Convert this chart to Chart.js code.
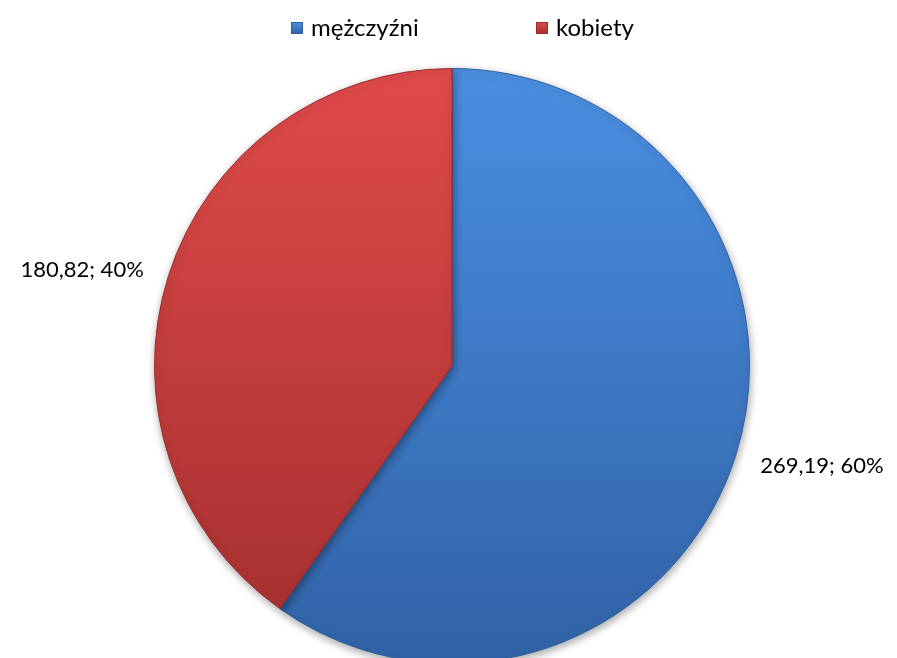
<!DOCTYPE html>
<html>
<head>
<meta charset="utf-8">
<script src="https://cdn.jsdelivr.net/npm/chart.js@4.4.0/dist/chart.umd.min.js"></script>
<style>
  html, body { margin: 0; padding: 0; background: #fff; overflow: hidden; }
  #wrap { position: relative; width: 897px; height: 664px; }
</style>
</head>
<body>
<div id="wrap"><canvas id="chartCanvas"></canvas></div>
<script>
let labels = ['mężczyźni', 'kobiety'];
let values = [269.19, 180.82];
let pctLabels = ['60%', '40%'];
let topColors = ['#4a8fe2', '#e04a4a'];
let bottomColors = ['#3162a6', '#a32e2e'];
let edgeColors = ['#2f5f9e', '#9c2c2c'];
let legendX = [291, 536];

function sliceFill(c) {
    let area = c.chart.chartArea;
    let i = c.dataIndex;
    if (!area) return topColors[i];
    let g = c.chart.ctx.createLinearGradient(0, area.top, 0, area.bottom);
    g.addColorStop(0, topColors[i]);
    g.addColorStop(1, bottomColors[i]);
    return g;
}

// soft shadow under the pie
const pieShadow = {
    id: 'pieShadow',
    beforeDatasetsDraw(chart) {
        let ctx = chart.ctx;
        ctx.save();
        ctx.shadowColor = 'rgba(0,0,0,0.35)';
        ctx.shadowBlur = 8;
        ctx.shadowOffsetX = 1;
        ctx.shadowOffsetY = 3;
    },
    afterDatasetsDraw(chart) {
        chart.ctx.restore();
    }
};

// "value; percent" labels outside the slices
const outLabels = {
    id: 'outLabels',
    afterDatasetsDraw(chart) {
        let ctx = chart.ctx;
        let meta = chart.getDatasetMeta(0);
        ctx.save();
        ctx.font = '22px Lato, "Open Sans", sans-serif';
        ctx.fillStyle = '#000';
        ctx.textBaseline = 'middle';
        meta.data.forEach((arc, i) => {
            let p = arc.getProps(['x', 'y', 'startAngle', 'endAngle', 'outerRadius'], true);
            let mid = (p.startAngle + p.endAngle) / 2;
            let r = p.outerRadius + 26;
            let x = p.x + Math.cos(mid) * r;
            let y = p.y + Math.sin(mid) * r;
            let right = Math.cos(mid) >= 0;
            ctx.textAlign = right ? 'left' : 'right';
            let txt = values[i].toFixed(2).replace('.', ',') + '; ' + pctLabels[i];
            ctx.fillText(txt, x, y + 2);
        });
        ctx.restore();
    }
};

// top legend, spaced like the original
const topLegend = {
    id: 'topLegend',
    afterDraw(chart) {
        let ctx = chart.ctx;
        ctx.save();
        ctx.font = '24px Lato, "Open Sans", sans-serif';
        ctx.textBaseline = 'middle';
        ctx.textAlign = 'left';
        labels.forEach((l, i) => {
            let x = legendX[i];
            let g = ctx.createLinearGradient(0, 22, 0, 34);
            g.addColorStop(0, topColors[i]);
            g.addColorStop(1, bottomColors[i]);
            ctx.fillStyle = g;
            ctx.fillRect(x, 22, 11, 11);
            ctx.strokeStyle = edgeColors[i];
            ctx.lineWidth = 1;
            ctx.strokeRect(x + 0.5, 22.5, 11, 11);
            ctx.fillStyle = '#000';
            ctx.fillText(l, x + 20, 28);
        });
        ctx.restore();
    }
};

let ctx = document.getElementById('chartCanvas').getContext('2d');
let chart = new Chart(ctx, {
    type: 'pie',
    data: {
        labels: labels,
        datasets: [{
            data: values,
            backgroundColor: sliceFill,
            borderColor: edgeColors,
            borderWidth: 1
        }]
    },
    options: {
        responsive: true,
        maintainAspectRatio: false,
        animation: false,
        layout: { padding: { top: 68, left: 7, bottom: 0 } },
        plugins: {
            legend: { display: false },
            tooltip: { enabled: false }
        }
    },
    plugins: [pieShadow, outLabels, topLegend]
});
</script>
</body>
</html>
